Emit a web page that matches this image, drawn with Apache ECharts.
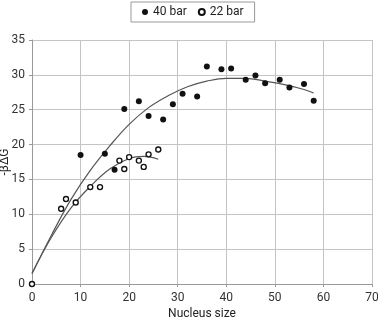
<!DOCTYPE html>
<html>
<head>
<meta charset="utf-8">
<script src="https://cdn.jsdelivr.net/npm/echarts@6/dist/echarts.min.js"></script>
<style>
html,body{margin:0;padding:0;background:#fff;}
#chart{width:378px;height:320px;}
</style>
</head>
<body>
<div id="chart"></div>
<script>
// Data
const bar40X = [10, 15, 17, 19, 22, 24, 27, 29, 31, 34, 36, 39, 41, 44, 46, 48, 51, 53, 56, 58];
const bar40Y = [18.5, 18.7, 16.4, 25.1, 26.2, 24.1, 23.6, 25.8, 27.3, 26.9, 31.2, 30.8, 30.9, 29.3, 29.9, 28.8, 29.3, 28.2, 28.7, 26.3];
const bar22X = [0, 6, 7, 9, 12, 14, 18, 19, 20, 22, 23, 24, 26];
const bar22Y = [0, 10.8, 12.2, 11.7, 13.9, 13.9, 17.7, 16.5, 18.2, 17.7, 16.8, 18.6, 19.3];
// fitted curves
const fit40X = [0, 4, 8, 12, 16, 20, 24, 28, 32, 36, 40, 44, 48, 52, 56, 58];
const fit40Y = [1.5, 7.0, 12.1, 16.3, 19.8, 22.9, 25.3, 27.0, 28.3, 29.1, 29.5, 29.5, 29.1, 28.6, 27.9, 27.4];
const fit22X = [0, 4, 8, 12, 16, 20, 23, 26];
const fit22Y = [1.5, 6.7, 10.9, 14.0, 16.5, 18.0, 18.3, 17.9];
const seriesNames = ['40 bar', '22 bar'];
const xAxisTitle = 'Nucleus size';
const yAxisTitle = '-βΔG';

const zip = (xs, ys) => xs.map((x, i) => [x, ys[i]]);
const FONT = "'Roboto', 'Liberation Sans', sans-serif";

const chart = echarts.init(document.getElementById('chart'), null, {renderer: 'canvas'});
chart.setOption({
  animation: false,
  textStyle: {fontFamily: FONT},
  legend: {
    data: seriesNames,
    left: 131, top: 2,
    padding: [4, 11],
    itemGap: 11,
    itemWidth: 6, itemHeight: 6,
    borderColor: '#999', borderWidth: 1,
    textStyle: {fontFamily: FONT, fontSize: 12, color: '#222'}
  },
  grid: {left: 32, right: 6, top: 40, bottom: 36, containLabel: false, outerBoundsMode: 'none'},
  xAxis: {
    type: 'value', min: 0, max: 70, interval: 10,
    name: xAxisTitle, nameLocation: 'middle', nameGap: 24, nameMoveOverlap: false,
    nameTextStyle: {fontFamily: FONT, fontSize: 12, color: '#222'},
    axisLine: {show: true, lineStyle: {color: '#999', width: 1}},
    axisTick: {show: true, length: 3, lineStyle: {color: '#999'}},
    axisLabel: {fontFamily: FONT, fontSize: 12, color: '#333', margin: 8},
    splitLine: {show: true, lineStyle: {color: '#c4c4c4', width: 1}}
  },
  yAxis: {
    type: 'value', min: 0, max: 35, interval: 5,
    name: yAxisTitle, nameLocation: 'middle', nameGap: 21, nameMoveOverlap: false,
    nameTextStyle: {fontFamily: FONT, fontSize: 12, color: '#222'},
    axisLine: {show: true, lineStyle: {color: '#999', width: 1}},
    axisTick: {show: true, length: 3, lineStyle: {color: '#999'}},
    axisLabel: {fontFamily: FONT, fontSize: 12, color: '#333', margin: 7},
    splitLine: {show: true, lineStyle: {color: '#c4c4c4', width: 1}}
  },
  series: [
    {
      type: 'line', data: zip(fit40X, fit40Y), smooth: 0.4, showSymbol: false, symbol: 'none',
      lineStyle: {color: '#555', width: 1.2}, silent: true, z: 2
    },
    {
      type: 'line', data: zip(fit22X, fit22Y), smooth: 0.4, showSymbol: false, symbol: 'none',
      lineStyle: {color: '#555', width: 1.2}, silent: true, z: 2
    },
    {
      name: seriesNames[0], type: 'scatter', data: zip(bar40X, bar40Y),
      symbol: 'circle', symbolSize: 6,
      itemStyle: {color: '#111', opacity: 1}, z: 3
    },
    {
      name: seriesNames[1], type: 'scatter', data: zip(bar22X, bar22Y),
      symbol: 'circle', symbolSize: 5,
      itemStyle: {color: '#fff', borderColor: '#111', borderWidth: 1.4, opacity: 1}, z: 3
    }
  ]
});
</script>
</body>
</html>
